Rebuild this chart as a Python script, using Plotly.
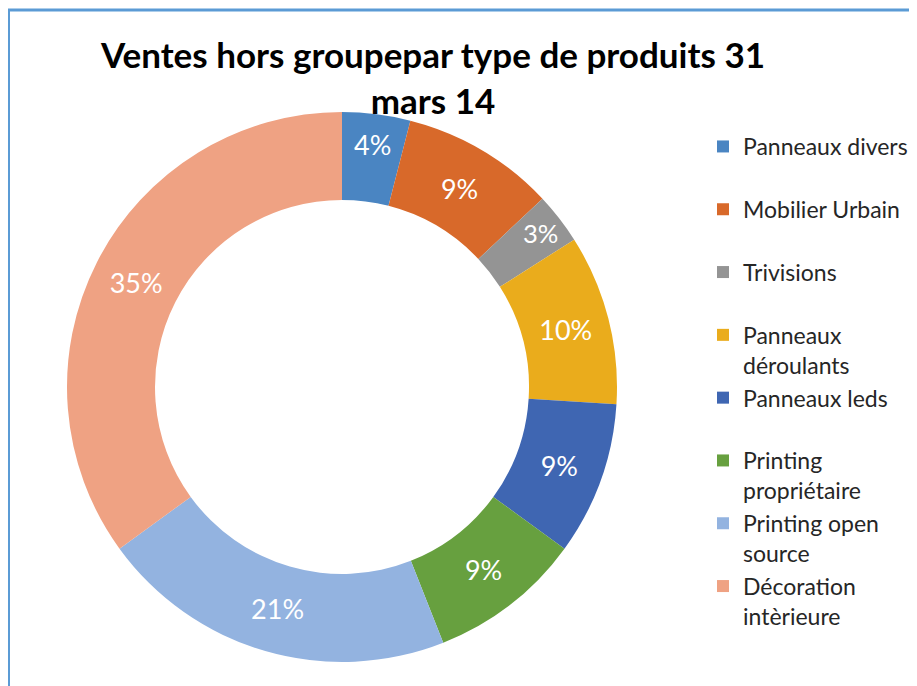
import plotly.graph_objects as go

W, H = 917, 686

categories = ["Panneaux divers", "Mobilier Urbain", "Trivisions", "Panneaux déroulants",
              "Panneaux leds", "Printing propriétaire", "Printing open source",
              "Décoration intèrieure"]
legend_labels = ["Panneaux divers<br> ", "Mobilier Urbain<br> ", "Trivisions<br> ",
                 "Panneaux<br>déroulants", "Panneaux leds<br> ", "Printing<br>propriétaire",
                 "Printing open<br>source", "Décoration<br>intèrieure"]
values = [4, 9, 3, 10, 9, 9, 21, 35]
colors = ["#4A85C2", "#D8692A", "#949494", "#EAAC1C", "#3F66B2", "#67A03F", "#93B3E0", "#EFA283"]

title_text = "Ventes hors groupepar type de produits 31<br>mars 14"

FONT = "Lato"

# donut geometry in figure pixels (page has an 8px body margin)
cx, cy, R = 334, 379, 275

fig = go.Figure(go.Pie(
    labels=legend_labels,
    values=values,
    sort=False,
    direction="clockwise",
    rotation=0,
    hole=0.68,
    marker=dict(colors=colors, line=dict(width=0)),
    texttemplate="%{percent:.0%}",
    textposition="inside",
    insidetextorientation="horizontal",
    insidetextfont=dict(family=FONT, size=27, color="white"),
    hoverinfo="label+percent",
    domain=dict(x=[(cx - R) / W, (cx + R) / W], y=[1 - (cy + R) / H, 1 - (cy - R) / H]),
))

fig.update_layout(
    width=W, height=H,
    margin=dict(l=0, r=0, t=0, b=0),
    paper_bgcolor="white",
    plot_bgcolor="white",
    font=dict(family=FONT, color="#262626"),
    title=dict(text=title_text, x=425 / W, xanchor="center", y=1 - 60 / H, yanchor="top",
               font=dict(family=FONT, size=35, color="black", weight="bold")),
    legend=dict(x=695 / W, xanchor="left", y=1 - 117 / H, yanchor="top",
                valign="top", font=dict(family=FONT, size=23, color="#262626"),
                bgcolor="rgba(0,0,0,0)"),
    shapes=[dict(type="rect", xref="paper", yref="paper",
                 x0=0.5 / W, x1=1.05, y0=-0.05, y1=1 - 2 / H,
                 line=dict(color="#5B9BD5", width=3), layer="below")],
)

fig.write_html("out.html")
